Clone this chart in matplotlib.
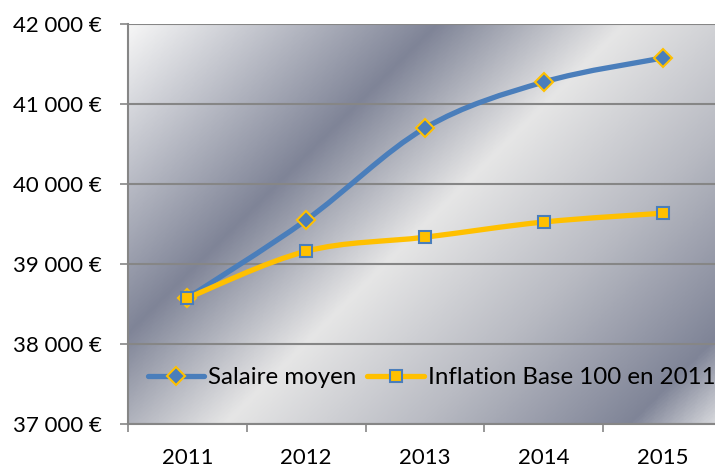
import numpy as np
import matplotlib
matplotlib.use("Agg")
import matplotlib.pyplot as plt
from matplotlib.colors import LinearSegmentedColormap
from matplotlib.path import Path
from matplotlib.patches import PathPatch
from matplotlib.ticker import FuncFormatter

# ===================== données =====================
annees = ["2011", "2012", "2013", "2014", "2015"]
salaire_moyen = [38575, 39550, 40700, 41275, 41575]
inflation_base100 = [38575, 39160, 39335, 39525, 39635]

BLEU = "#4a7ebb"
JAUNE = "#ffc000"

plt.rcParams['font.family'] = ['Lato', 'DejaVu Sans']


def courbe_lissee(ax, xs, ys, color, lw):
    # ligne lissée façon Excel (Catmull-Rom -> Bezier)
    xs = np.asarray(xs, float)
    ys = np.asarray(ys, float)
    n = len(xs)
    verts = [(xs[0], ys[0])]
    codes = [Path.MOVETO]
    t = 1.0 / 6.0
    for i in range(n - 1):
        i0 = max(i - 1, 0)
        i3 = min(i + 2, n - 1)
        c1 = (xs[i] + (xs[i + 1] - xs[i0]) * t, ys[i] + (ys[i + 1] - ys[i0]) * t)
        c2 = (xs[i + 1] - (xs[i3] - xs[i]) * t, ys[i + 1] - (ys[i3] - ys[i]) * t)
        verts += [c1, c2, (xs[i + 1], ys[i + 1])]
        codes += [Path.CURVE4] * 3
    ax.add_patch(PathPatch(Path(verts, codes), fill=False, edgecolor=color,
                           lw=lw, capstyle='round', joinstyle='round', zorder=3))


fig = plt.figure(figsize=(7.15, 4.68), dpi=100)
W, H = 715, 468
left, top, right, bottom = 128, 24, 722, 424
ax = fig.add_axes([left / W, 1 - bottom / H, (right - left) / W, (bottom - top) / H])

# fond dégradé "chrome"
u = np.linspace(0, 1, 400)
v = np.linspace(0, 1, 300)
U, V = np.meshgrid(u, v)
T = (U * (right - left) + V * (bottom - top)) / ((right - left) + (bottom - top))
cmap = LinearSegmentedColormap.from_list("chrome", [
    (0.0, "#f6f6f6"), (0.31, "#7f8497"), (0.50, "#e6e6e6"),
    (0.70, "#b9bbc3"), (0.91, "#7f8497"), (1.0, "#dcdde0")])
ax.imshow(T, cmap=cmap, extent=[0, 1, 0, 1], transform=ax.transAxes,
          aspect='auto', zorder=0, interpolation='bilinear')

x = np.arange(len(annees))
ax.set_xlim(-0.5, len(annees) - 0.5)
ax.set_ylim(37000, 42000)

ax.set_yticks(np.arange(37000, 42001, 1000))
ax.yaxis.set_major_formatter(FuncFormatter(lambda val, pos: f"{int(val):,} €".replace(",", " ")))
ax.set_xticks(x)
ax.set_xticklabels(annees)
ax.set_xticks(np.arange(-0.5, len(annees), 1), minor=True)
ax.grid(axis='y', color="#868686", lw=1.5, zorder=1)

ax.tick_params(axis='y', length=6, width=1.2, color="#868686", pad=13, labelsize=16)
ax.tick_params(axis='x', which='major', length=0, pad=17, labelsize=16)
ax.tick_params(axis='x', which='minor', length=6, width=1.2, color="#868686")

for s in ["top", "right"]:
    ax.spines[s].set_visible(False)
ax.spines["left"].set_color("#868686")
ax.spines["left"].set_linewidth(1.5)
ax.spines["bottom"].set_color("#868686")
ax.spines["bottom"].set_linewidth(1.5)

courbe_lissee(ax, x, salaire_moyen, BLEU, 3.8)
courbe_lissee(ax, x, inflation_base100, JAUNE, 3.8)

l1, = ax.plot(x, salaire_moyen, ls='none', marker='D', ms=9.5, mfc=BLEU,
              mec=JAUNE, mew=1.5, zorder=4)
l2, = ax.plot(x, inflation_base100, ls='none', marker='s', ms=9, mfc=JAUNE,
              mec=BLEU, mew=1.5, zorder=5)

h1, = ax.plot([], [], color=BLEU, lw=3.8, solid_capstyle='round', marker='D',
              ms=9.5, mfc=BLEU, mec=JAUNE, mew=1.5)
h2, = ax.plot([], [], color=JAUNE, lw=3.8, solid_capstyle='round', marker='s',
              ms=9, mfc=JAUNE, mec=BLEU, mew=1.5)
leg = ax.legend([h1, h2], ["Salaire moyen", "Inflation Base 100 en 2011"],
                loc='center left', bbox_to_anchor=(0.033, 0.115), ncol=2,
                frameon=False, fontsize=17.4, handlelength=2.35,
                handletextpad=0.15, columnspacing=0.45, borderaxespad=0,
                borderpad=0)

fig.savefig("out.png", dpi=100)
